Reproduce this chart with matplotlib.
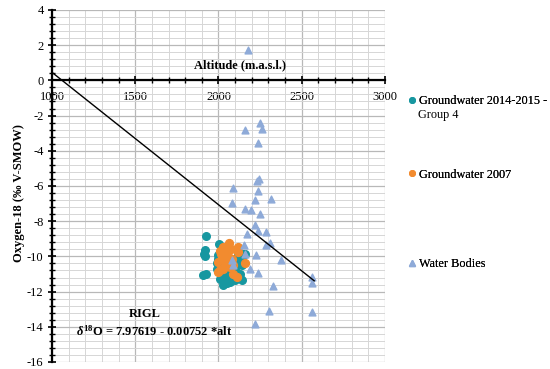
import numpy as np
import matplotlib.pyplot as plt
from matplotlib.ticker import MultipleLocator
from matplotlib.lines import Line2D

plt.rcParams['font.family'] = ['Liberation Serif', 'DejaVu Serif']
plt.rcParams['mathtext.fontset'] = 'custom'
plt.rcParams['mathtext.rm'] = 'Liberation Serif:bold'
plt.rcParams['mathtext.it'] = 'Liberation Serif:italic:bold'
plt.rcParams['mathtext.bf'] = 'Liberation Serif:bold'
plt.rcParams['axes.unicode_minus'] = False

# ---- data ----
gw1415_alt = [1925, 1919, 1915, 1922, 2005, 1923, 1909, 2009, 2029, 2069,
              2119, 2129, 2119, 2129, 2139, 2099, 2039, 1999, 1990, 2049,
              2159, 2149, 2080, 2110, 2060, 2020, 2000, 2100, 2050, 2130,
              1990, 2140]
gw1415_o18 = [-8.86, -9.66, -9.85, -10.0, -9.28, -10.98, -11.08, -11.27, -11.65, -11.46,
              -9.94, -10.23, -10.51, -10.98, -11.36, -11.36, -11.08, -10.13, -10.4, -10.89,
              -9.89, -9.85, -11.2, -11.1, -11.3, -9.6, -9.9, -10.8, -11.5, -11.2,
              -10.7, -10.5]

gw2007_alt = [2065, 2029, 2049, 2015, 2030, 2021, 1999, 2045, 2079, 2069,
              2089, 2009, 2089, 2159, 2109, 2119, 2115, 2040, 2060, 2000,
              2030, 2055, 2075, 2010]
gw2007_o18 = [-9.24, -9.47, -9.66, -9.85, -9.95, -10.1, -10.32, -10.38, -10.13, -10.6,
              -10.5, -10.8, -10.98, -10.36, -11.17, -9.47, -9.75, -9.8, -9.95, -10.9,
              -10.7, -10.1, -9.6, -9.7]

wb_alt = [2179, 2249, 2261, 2159, 2235, 2229, 2243, 2085, 2235, 2081,
          2221, 2317, 2159, 2195, 2247, 2217, 2239, 2285, 2169, 2311,
          2287, 2155, 2159, 2223, 2375, 2189, 2239, 2564, 2564, 2329,
          2303, 2564, 2219, 2079, 2085]
wb_o18 = [1.74, -2.40, -2.77, -2.80, -3.54, -5.74, -5.63, -6.14, -6.27, -6.97,
          -6.80, -6.76, -7.33, -7.35, -7.59, -8.20, -8.56, -8.62, -8.75, -9.24,
          -9.38, -9.34, -9.85, -9.90, -10.23, -10.70, -10.93, -11.17, -11.50, -11.70,
          -13.13, -13.16, -13.86, -10.23, -10.50]

# RIGL regression: d18O = 7.97619 - 0.00752 * alt
fit_a, fit_b = 7.97619, -0.00752
fit_range = [1000, 2575]

c_teal = '#1797a0'
c_orange = '#f28b2f'
c_tri = '#8eaad8'

fig = plt.figure(figsize=(5.5, 3.69), dpi=100)
ax = fig.add_axes([0.0945, 0.019, 0.6055, 0.954])

ax.set_xlim(1000, 3000)
ax.set_ylim(-16, 4)

# grid
ax.xaxis.set_major_locator(MultipleLocator(500))
ax.xaxis.set_minor_locator(MultipleLocator(100))
ax.yaxis.set_major_locator(MultipleLocator(2))
ax.yaxis.set_minor_locator(MultipleLocator(0.4))
ax.grid(which='major', color='#b8b8b8', linewidth=0.9, zorder=0)
ax.grid(which='minor', color='#d6d6d6', linewidth=0.7, zorder=0)
ax.set_axisbelow(True)

for s in ['top', 'right']:
    ax.spines[s].set_visible(False)
ax.spines['bottom'].set_position(('data', 0))
ax.spines['bottom'].set_linewidth(1.6)
ax.spines['left'].set_linewidth(1.6)
ax.tick_params(which='major', direction='inout', length=6, width=1.2, labelsize=9, pad=3)
ax.tick_params(which='minor', direction='inout', length=4, width=1.0)
ax.tick_params(axis='x', pad=5)

ax.scatter(gw1415_alt, gw1415_o18, s=30, color=c_teal, zorder=3)
ax.scatter(gw2007_alt, gw2007_o18, s=32, color=c_orange, zorder=4)
ax.scatter(wb_alt, wb_o18, s=24, marker='^', color=c_tri, zorder=5)

xs = np.array(fit_range)
ax.plot(xs, fit_a + fit_b * xs, color='black', linewidth=1.0, zorder=6)

ax.text(2130, 0.85, 'Altitude (m.a.s.l.)', ha='center', va='center',
        fontsize=9, fontweight='bold')
ax.set_ylabel('Oxygen-18 (‰ V-SMOW)', fontsize=9, fontweight='bold')
ax.yaxis.set_label_coords(-0.08, 0.48)

ax.text(1555, -13.25, 'RIGL', ha='center', va='center', fontsize=9, fontweight='bold')
ax.text(1615, -14.27, r'$\delta^{18}$O = 7.97619 - 0.00752 *alt', ha='center', va='center',
        fontsize=9, fontweight='bold')

# legend entries
entries = [
    (Line2D([], [], marker='o', linestyle='', color=c_teal, markersize=4),
     'Groundwater 2014-2015 -', 0.756),
    (Line2D([], [], marker='o', linestyle='', color=c_orange, markersize=4),
     'Groundwater 2007', 0.556),
    (Line2D([], [], marker='^', linestyle='', color=c_tri, markersize=4),
     'Water Bodies', 0.313),
]
for h, lab, yy in entries:
    lg = fig.legend([h], [lab], loc='upper left', bbox_to_anchor=(0.733, yy),
                    frameon=False, fontsize=8.8, handlelength=0.6, handletextpad=0.3,
                    borderaxespad=0)
    fig.add_artist(lg)
fig.text(0.760, 0.688, 'Group 4', fontsize=8.8, ha='left', va='center')

fig.savefig('out.png', dpi=100)
